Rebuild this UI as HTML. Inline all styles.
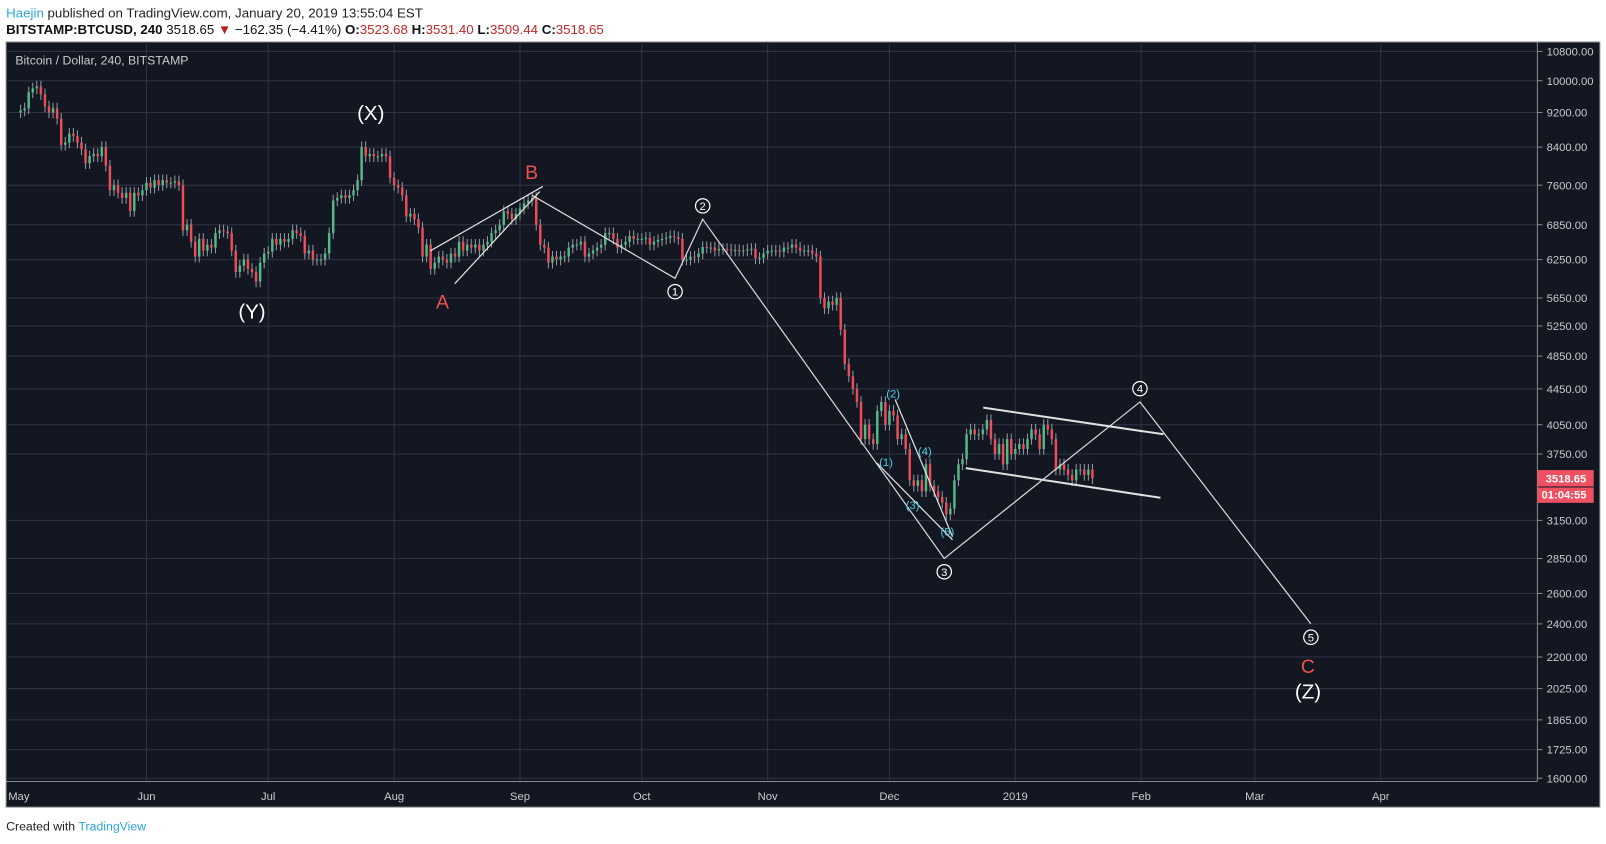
<!DOCTYPE html>
<html><head><meta charset="utf-8"><style>
html,body{margin:0;padding:0;background:#fff;overflow:hidden}
svg{display:block;font-family:"Liberation Sans",sans-serif}
</style></head><body>
<svg id="chart" width="1606" height="844" viewBox="0 0 1568 824" xmlns="http://www.w3.org/2000/svg">
<text x="6" y="17" font-size="13" fill="#222"><tspan fill="#2ba6de">Haejin</tspan> published on TradingView.com, January 20, 2019 13:55:04 EST</text>
<text x="6" y="33" font-size="13" fill="#111"><tspan font-weight="bold">BITSTAMP:BTCUSD, 240</tspan> 3518.65 <tspan fill="#b71c1c">▼</tspan> −162.35 (−4.41%) <tspan font-weight="bold">O:</tspan><tspan fill="#c62828">3523.68</tspan> <tspan font-weight="bold">H:</tspan><tspan fill="#c62828">3531.40</tspan> <tspan font-weight="bold">L:</tspan><tspan fill="#c62828">3509.44</tspan> <tspan font-weight="bold">C:</tspan><tspan fill="#c62828">3518.65</tspan></text>
<rect x="6" y="41" width="1556" height="747" fill="#131722" stroke="#888" stroke-width="1"/>
<g id="grid"></g>
<g id="candles"></g>
<g id="ann"></g>
<line x1="1501" y1="41" x2="1501" y2="763" stroke="#888" stroke-width="1"/>
<line x1="6" y1="763" x2="1501" y2="763" stroke="#888" stroke-width="1"/>
<g id="axes"></g>
<text x="15" y="63" font-size="12" fill="#c8cad0">Bitcoin / Dollar, 240, BITSTAMP</text>
<text x="6" y="811" font-size="12" fill="#222">Created with <tspan fill="#2ba6de">TradingView</tspan></text>
</svg>
<script>
const tickPrices=[10800,10000,9200,8400,7600,6850,6250,5650,5250,4850,4450,4050,3750,3150,2850,2600,2400,2200,2025,1865,1725,1600];
const monthLabels=["May","Jun","Jul","Aug","Sep","Oct","Nov","Dec","2019","Feb","Mar","Apr"];
const monthDays=[0,31,61,92,123,153,184,214,245,276,304,335];
const closes=[
9250,9300,9700,9800,9850,9650,9350,9200,9300,9050,8450,8500,8700,8650,8500,8350,8050,8200,8250,8200,8400,8000,7500,7600,7450,7350,7450,7100,7450,7400,7500,
7650,7550,7700,7600,7700,7650,7650,7680,7600,6750,6850,6550,6300,6600,6400,6500,6450,6700,6750,6730,6700,6400,6050,6150,6250,6100,6050,5900,6200,6350,
6380,6600,6500,6600,6550,6600,6750,6700,6650,6350,6400,6250,6250,6250,6350,6700,7300,7350,7400,7350,7400,7500,7700,8400,8200,8250,8200,8200,8250,8200,7750,
7600,7550,7400,7000,7050,6950,6800,6300,6500,6100,6200,6300,6250,6200,6350,6300,6550,6400,6500,6450,6500,6400,6500,6550,6700,6750,6850,7100,7050,6950,7050,
7150,7250,7300,7350,6850,6500,6450,6200,6300,6250,6300,6300,6450,6500,6500,6550,6300,6350,6400,6450,6500,6700,6700,6600,6450,6500,6550,6650,6600,6600,
6600,6620,6500,6550,6580,6600,6620,6650,6630,6600,6250,6250,6300,6290,6350,6460,6450,6450,6400,6430,6430,6420,6400,6410,6400,6400,6420,6430,6270,6280,6350,
6400,6400,6400,6380,6450,6450,6500,6450,6400,6400,6400,6350,6300,5650,5500,5600,5550,5650,5200,4750,4600,4450,4300,3900,4050,3900,3850,4200,4300,4050,
4200,4150,3900,3950,3800,3500,3450,3500,3400,3650,3450,3400,3350,3300,3200,3250,3500,3650,3700,3950,4000,3950,3950,4000,4100,3900,3750,3850,3650,3900,3750,
3800,3850,3800,3900,4000,3950,3800,4050,4000,3900,3600,3650,3600,3550,3500,3600,3600,3550,3600,3518.65];
const firstClose=9200;
const waveDays=[126,161.2,168,227.5,275.7,317.8];
const wavePrices=[7400,5950,6950,2850,4300,2400];
const waveLabels=["","1","2","3","4","5"];

const NS="http://www.w3.org/2000/svg";
const LN=Math.log(10800);
function y(p){return 50.2+(LN-Math.log(p))*371.6;}
function x(d){return 20.1+d*3.964;}
function el(tag,attrs,parent){const e=document.createElementNS(NS,tag);for(const k in attrs)e.setAttribute(k,attrs[k]);parent.appendChild(e);return e;}
const grid=document.getElementById('grid'),axes=document.getElementById('axes'),cg=document.getElementById('candles'),ann=document.getElementById('ann');
tickPrices.forEach(p=>{
  const yy=y(p);
  const g=el('line',{x1:6,x2:1501,y1:yy,y2:yy,stroke:'#2f3445','stroke-width':1},grid);
  
  
  el('line',{x1:1501,x2:1506,y1:yy,y2:yy,stroke:'#888'},axes);
  const t=el('text',{x:1510,y:yy+4,'font-size':11,fill:'#c8cad0'},axes);
  t.textContent=p.toFixed(2);
  
  
});
monthLabels.forEach((m,i)=>{
  const xx=x(monthDays[i]);
  if(i>0){const g=el('line',{x1:xx,x2:xx,y1:41,y2:763,stroke:'#2f3445','stroke-width':1},grid);
  
  }
  const t=el('text',{x:i==0?8:xx,y:781,'font-size':11,fill:'#c8cad0','text-anchor':i==0?'start':'middle'},axes);
  t.textContent=m;
  
  
});
closes.forEach((c,d)=>{
  const o=d==0?firstClose:closes[d-1];
  const up=c>=o;
  const hi=Math.max(o,c)*1.015,lo=Math.min(o,c)*0.985;
  const xx=x(d);
  const w=el('line',{x1:xx,x2:xx,y1:y(hi),y2:y(lo),stroke:'#9598a1','stroke-width':1},cg);
  
  
  const b=el('rect',{x:xx-1.2,width:2.4,y:y(Math.max(o,c)),height:Math.max(1,Math.abs(y(o)-y(c))),fill:up?'#53b987':'#eb4d5c'},cg);
  
  
});
let pts=waveDays.map((d,i)=>x(d)+','+y(wavePrices[i])).join(' ');
const pl=el('polyline',{points:pts,fill:'none',stroke:'#d8d8d8','stroke-width':1.2},ann);


waveDays.forEach((d,i)=>{
  if(!waveLabels[i])return;
  const up=i%2==0;
  const cx=x(d),cy=y(wavePrices[i])+(up?-13:13);
  const c=el('circle',{cx:cx,cy:cy,r:7,fill:'#131722',stroke:'#fff','stroke-width':1.2},ann);
  
  
  const t=el('text',{x:cx,y:cy+4,'font-size':11,fill:'#fff','text-anchor':'middle'},ann);
  t.textContent=waveLabels[i];
  
  
});
function ln(a,b,c,d,w,name){const l=el('line',{x1:a,y1:b,x2:c,y2:d,stroke:'#e0e0e0','stroke-width':w},ann);}
ln(420,245,530,182,1.2,'wedge-upper-line');
ln(444,277,527,187,1.2,'wedge-lower-line');
ln(856,452,930,527,1.2,'subwave-line-1');
ln(874,390,930,524,1.2,'subwave-line-2');
ln(960,398,1136,424,2,'channel-upper-line');
ln(943,457,1133,486,2,'channel-lower-line');
function tx(s,xx,yy,sz,fill,name){const t=el('text',{x:xx,y:yy,'font-size':sz,fill:fill,'text-anchor':'middle'},ann);t.textContent=s;}
tx('(X)',362,117,20,'#fff','label-x');
tx('(Y)',246,311,20,'#fff','label-y');
tx('A',432,301,19,'#f05050','label-a');
tx('B',519,175,19,'#f05050','label-b');
tx('C',1277,657,19,'#f05050','label-c');
tx('(Z)',1277,682,20,'#fff','label-z');
tx('(1)',865,455,11,'#4dd0e1','sub-1');
tx('(2)',872,388,11,'#4dd0e1','sub-2');
tx('(3)',891,497,11,'#4dd0e1','sub-3');
tx('(4)',903,444,11,'#4dd0e1','sub-4');
tx('(5)',925,523,11,'#4dd0e1','sub-5');
const py=y(closes[closes.length-1]);
const r1=el('rect',{x:1501,y:py-8,width:55,height:16,fill:'#ef5062'},axes);


const t1=el('text',{x:1509,y:py+4,'font-size':11,fill:'#fff','font-weight':'bold'},axes);t1.textContent='3518.65';
const r2=el('rect',{x:1501,y:py+9,width:55,height:15,fill:'#ef5062'},axes);


const t2=el('text',{x:1505,y:py+20,'font-size':11,fill:'#fff','font-weight':'bold'},axes);t2.textContent='01:04:55';
</script>
</body></html>
